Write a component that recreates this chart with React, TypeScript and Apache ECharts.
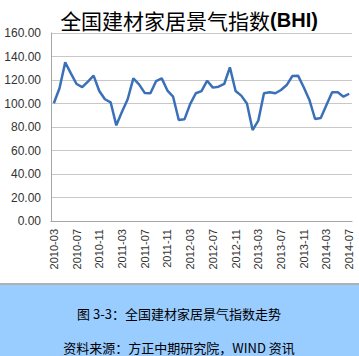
import React, { useEffect, useRef } from "react";
import * as echarts from "echarts";

const months: string[] = [];
for (let y = 2010; y <= 2014; y++) {
  for (let m = 1; m <= 12; m++) {
    if ((y === 2010 && m < 3) || (y === 2014 && m > 7)) continue;
    months.push(`${y}-${String(m).padStart(2, "0")}`);
  }
}

const bhiValues = [
  100.2, 113, 135, 125.7, 116.6, 114, 118.6, 123.7, 110.6, 103.6, 101, 81.4,
  93, 103.6, 121.4, 116.3, 109, 108.7, 119, 121.4, 111, 105.8, 86, 86.5,
  99.5, 108.7, 110.6, 119.4, 113.5, 114.3, 116.6, 130.8, 110.6, 106.7, 100, 77.4,
  85.4, 108.7, 109.5, 108.7, 111.5, 115.7, 123.4, 123.7, 113.8, 103, 86.8, 87.7,
  98.7, 109.5, 109.5, 105.8, 108.3,
];

const yTicks = { min: 0, max: 160, interval: 20 };

const titleMain = "全国建材家居景气指数";
const titleBold = "(BHI)";
const captionLine1 = "图 3-3：全国建材家居景气指数走势";
const captionLine2 = "资料来源：方正中期研究院，WIND 资讯";

export default function App() {
  const ref = useRef<HTMLDivElement>(null);
  useEffect(() => {
    document.body.style.margin = "0";
    const chart = echarts.init(ref.current!, null, { renderer: "svg" });
    chart.setOption({
      animation: false,
      backgroundColor: "#ffffff",
      title: {
        text: `{a|${titleMain}}{b|${titleBold}}`,
        left: 184,
        textAlign: "center",
        top: 4,
        textStyle: {
          fontWeight: "normal",
          rich: {
            a: { fontSize: 21, fontWeight: "normal", fontFamily: "Noto Sans CJK SC", color: "#000000" },
            b: { fontSize: 20, fontWeight: "bold", fontFamily: "Liberation Sans", color: "#000000" },
          },
        },
      },
      grid: { left: 51, right: 7, top: 33, bottom: 135 },
      xAxis: {
        type: "category",
        data: months,
        boundaryGap: true,
        axisLine: { lineStyle: { color: "#a6a6a6", width: 1 } },
        axisTick: { interval: 3, length: 4, lineStyle: { color: "#a6a6a6" } },
        axisLabel: {
          interval: 3,
          rotate: 90,
          fontSize: 11,
          fontFamily: "Liberation Sans",
          color: "#333333",
          margin: 8,
        },
      },
      yAxis: {
        type: "value",
        min: yTicks.min,
        max: yTicks.max,
        interval: yTicks.interval,
        axisLine: { show: true, lineStyle: { color: "#a6a6a6" } },
        axisTick: { show: false },
        splitLine: { lineStyle: { color: "#c8c8c8", width: 1 } },
        axisLabel: {
          formatter: (v: number) => v.toFixed(2),
          fontSize: 12,
          fontFamily: "Liberation Sans",
          color: "#333333",
          margin: 10,
        },
      },
      series: [
        {
          type: "line",
          data: bhiValues,
          symbol: "none",
          lineStyle: { color: "#3a70b8", width: 2.5 },
        },
      ],
      graphic: [
        {
          type: "rect",
          left: 0,
          top: 283,
          shape: { width: 359, height: 2 },
          style: { fill: "#b0b0b0" },
        },
        {
          type: "rect",
          left: 0,
          top: 285,
          shape: { width: 359, height: 71 },
          style: { fill: "#99ccff" },
        },
        {
          type: "text",
          x: 179,
          y: 313,
          style: {
            text: captionLine1,
            fill: "#000000",
            fontSize: 13,
            fontFamily: "Noto Sans CJK SC",
            align: "center",
            verticalAlign: "middle",
          },
        },
        {
          type: "text",
          x: 179,
          y: 347,
          style: {
            text: captionLine2,
            fill: "#000000",
            fontSize: 13,
            fontFamily: "Noto Sans CJK SC",
            align: "center",
            verticalAlign: "middle",
          },
        },
      ],
    });
    return () => chart.dispose();
  }, []);
  return <div ref={ref} style={{ width: 359, height: 356 }} />;
}
